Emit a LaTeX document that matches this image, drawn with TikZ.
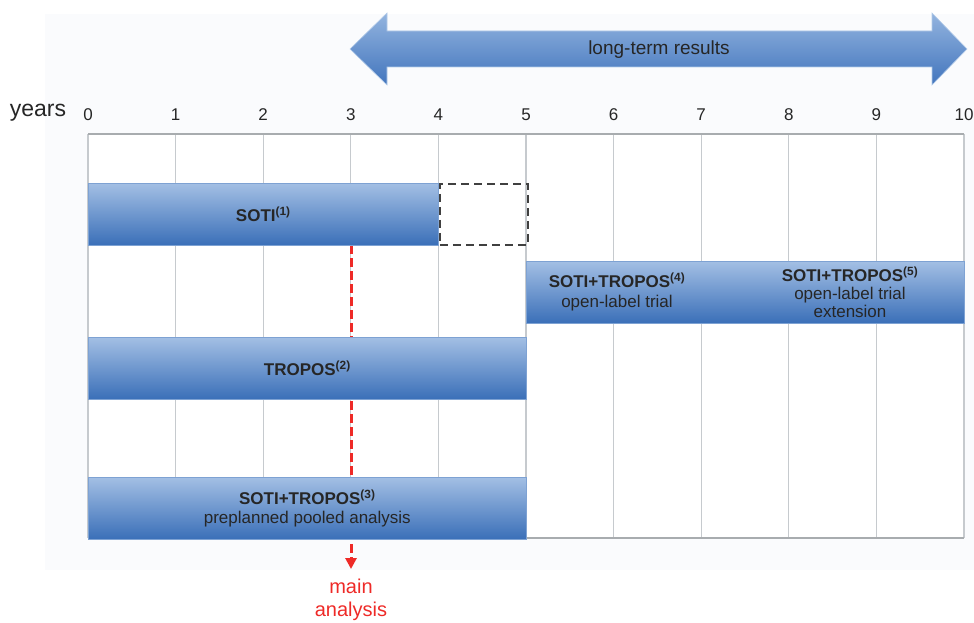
\documentclass[tikz,border=0pt]{standalone}
\usepackage{fontspec}
\setmainfont{Liberation Sans}
\usetikzlibrary{arrows.meta}
\definecolor{barTop}{HTML}{A3BFE4}
\definecolor{barBot}{HTML}{3A6FB8}
\definecolor{barEdge}{HTML}{7EA2D3}
\definecolor{arrTop}{HTML}{93B4DF}
\definecolor{arrBot}{HTML}{4275BD}
\definecolor{gridGray}{HTML}{C6CACE}
\definecolor{txtDark}{HTML}{262626}
\definecolor{mainRed}{HTML}{EE2A27}
\definecolor{panelBg}{HTML}{FAFBFD}
\providecommand\yrunit{87.6}
\providecommand\gridleft{88}

\begin{document}
\begin{tikzpicture}[x=1pt, y=-1pt]
  \tikzstyle{bar} = [rectangle, draw=barEdge, line width=0.6pt, shade,
                     top color=barTop, bottom color=barBot, anchor=north west,
                     minimum height=62pt, inner sep=0pt, text=txtDark, align=center,
                     font=\fontsize{17}{19}\selectfont]
  \tikzstyle{yearlbl} = [text=txtDark, font=\fontsize{17}{20}\selectfont]
  \tikzstyle{gridline} = [draw=gridGray, line width=1.1pt]
  \tikzstyle{extbox} = [rectangle, draw=black!75, line width=2.5pt, dash pattern=on 8pt off 5pt,
                        anchor=north west, minimum width=88pt, minimum height=61pt, inner sep=0pt]
  \tikzstyle{mainline} = [draw=mainRed, line width=3pt, dash pattern=on 9pt off 4pt,
                          -{Triangle[width=11pt,length=11pt]}]

\useasboundingbox (0,0) rectangle (974,623);
\fill[panelBg] (45,14) rectangle (974,570);
\fill[white] (88,134) rectangle (964,538);

% long-term arrow
\shade[top color=arrTop, bottom color=arrBot, draw=arrTop!70!white, line width=0.6pt]
  (350,49) -- (387,13) -- (387,31) -- (932,31) -- (932,13) -- (967,49)
  -- (932,85) -- (932,67) -- (387,67) -- (387,85) -- cycle;
\node[text=txtDark, font=\fontsize{19}{22}\selectfont] (longterm) at (659,50) {long-term results};

% year axis
\node[text=txtDark, font=\fontsize{23}{26}\selectfont] (yrs) at (38,113) {years};
\foreach \yr in {0,...,10}
  \node[yearlbl] (t\yr) at (\gridleft+\yrunit*\yr,115) {\yr};
\foreach \yr in {0,...,10}
  \draw[gridline] (\gridleft+\yrunit*\yr,134) -- (\gridleft+\yrunit*\yr,538);
\draw[draw=gridGray!85!black, line width=1.8pt] (88,134) -- (964,134);
\draw[draw=gridGray!85!black, line width=1.5pt] (526,538) -- (964,538);

% main analysis
\coordinate (mainstart) at (351,245);
\coordinate (mainend) at (351,569);
\draw[mainline] (mainstart) -- (mainend);
\node[text=mainRed, align=center, anchor=base, font=\fontsize{20}{23}\selectfont] (mainlbl) at (351,616) {main\\analysis};

% trials
\node[bar, minimum width=350pt] (soti) at (88,183) {\textbf{SOTI\textsuperscript{(1)}}};
\node[extbox] (sotiext) at (438.5,182.5) {};
\node[bar, minimum width=438pt] (combo) at (526,261) {};
\node[text=txtDark, align=center, font=\fontsize{17}{20}\selectfont] (openlbl) at (617,292)
  {\textbf{SOTI+TROPOS\textsuperscript{(4)}}\\open-label trial};
\node[text=txtDark, align=center, font=\fontsize{17}{18}\selectfont] (extlbl) at (850,292)
  {\textbf{SOTI+TROPOS\textsuperscript{(5)}}\\open-label trial\\extension};
\node[bar, minimum width=438pt] (tropos) at (88,337) {\textbf{TROPOS\textsuperscript{(2)}}};
\node[bar, minimum width=438pt] (pooled) at (88,477)
  {\textbf{SOTI+TROPOS\textsuperscript{(3)}}\\preplanned pooled analysis};
\end{tikzpicture}
\end{document}
